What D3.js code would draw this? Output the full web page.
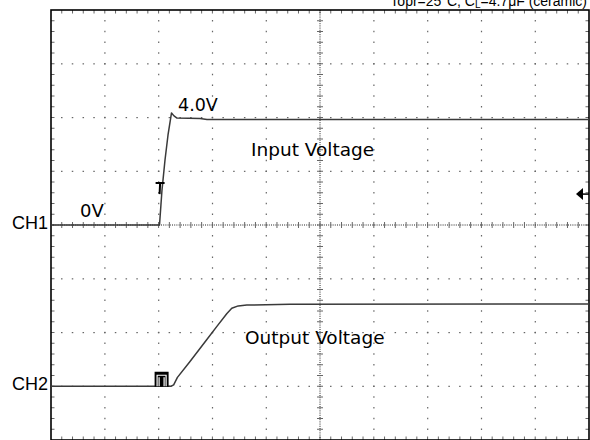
<!DOCTYPE html>
<html><head><meta charset="utf-8">
<script src="https://cdn.jsdelivr.net/npm/d3@7"></script>
<style>html,body{margin:0;padding:0;background:#fff;overflow:hidden}</style>
</head><body>
<svg id="chart" width="590" height="440"></svg>
<script>
// ---- data (time in divisions, voltage in V) ----
const ch1Time = [0, 2.017, 2.063, 2.119, 2.175, 2.240, 2.286, 2.342, 2.770, 2.900, 10];
const ch1Volt = [0, 0, 1.30, 2.42, 3.35, 4.17, 4.06, 3.98, 3.96, 3.93, 3.93];
const ch2Time = [0, 2.23, 2.28, 2.35, 2.58, 2.89, 3.08, 3.27, 3.36, 3.48, 3.64, 4.44, 10];
const ch2Volt = [0, 0, 0.05, 0.33, 0.91, 1.72, 2.22, 2.71, 2.90, 2.99, 3.02, 3.05, 3.06];
const channelNames = ["CH1", "CH2"];
const channelOffsets = [4, 1];      // ground position, divisions from bottom
const voltsPerDiv = 2;
const triggerTime = 2.0;
const triggerLevel = 1.15;          // V on CH1
const levelLabels = ["0V", "4.0V"];
const levelValues = [0, 4.0];
const traceLabels = ["Input Voltage", "Output Voltage"];
const titleParts = ["Topr=25°C, C", "L", "=4.7μF (ceramic)"];
const xDivs = 10, yDivs = 8, minorPerDiv = 5;

const svg = d3.select("#chart");
const x = d3.scaleLinear().domain([0, xDivs]).range([51, 589]);
const y = d3.scaleLinear().domain([0, yDivs]).range([440, 10]);
const yCh = (ch, v) => y(channelOffsets[ch] + v / voltsPerDiv);

const minorX = d3.range(1, xDivs * minorPerDiv).map(i => i / minorPerDiv);
const minorY = d3.range(1, yDivs * minorPerDiv).map(i => i / minorPerDiv);
const gridCol = "#666";

// ---- grid dots ----
const g = svg.append("g");
d3.range(1, xDivs).filter(i => i !== xDivs / 2).forEach(i => {
  g.selectAll(null).data(minorY).enter().append("rect")
    .attr("x", x(i) - 0.5).attr("y", d => y(d) - 0.75)
    .attr("width", 1.2).attr("height", 1.5).attr("fill", gridCol);
});
d3.range(1, yDivs).filter(j => j !== yDivs / 2).forEach(j => {
  g.selectAll(null).data(minorX).enter().append("rect")
    .attr("x", d => x(d) - 0.75).attr("y", y(j) - 0.5)
    .attr("width", 1.5).attr("height", 1.2).attr("fill", gridCol);
});

// ---- border ticks ----
const bt = svg.append("g").attr("stroke", gridCol).attr("stroke-width", 1);
bt.selectAll(null).data(minorX).enter().append("line")
  .attr("x1", d => x(d)).attr("x2", d => x(d)).attr("y1", y(yDivs)).attr("y2", y(yDivs) + 3.5);
bt.selectAll(null).data(minorX).enter().append("line")
  .attr("x1", d => x(d)).attr("x2", d => x(d)).attr("y1", y(0)).attr("y2", y(0) - 3.5);
bt.selectAll(null).data(minorY).enter().append("line")
  .attr("y1", d => y(d)).attr("y2", d => y(d)).attr("x1", x(0)).attr("x2", x(0) + 3.5);
bt.selectAll(null).data(minorY).enter().append("line")
  .attr("y1", d => y(d)).attr("y2", d => y(d)).attr("x1", x(xDivs)).attr("x2", x(xDivs) - 3.5);

// ---- center axes ----
const ca = svg.append("g");
ca.append("line").attr("x1", x(xDivs / 2)).attr("x2", x(xDivs / 2))
  .attr("y1", y(yDivs)).attr("y2", y(0))
  .attr("stroke", "#222").attr("stroke-width", 1).attr("stroke-dasharray", "1,1.2");
ca.append("line").attr("y1", y(yDivs / 2)).attr("y2", y(yDivs / 2))
  .attr("x1", x(0)).attr("x2", x(xDivs))
  .attr("stroke", "#222").attr("stroke-width", 1).attr("stroke-dasharray", "1,1.2");
ca.selectAll(null).data(minorY).enter().append("line")
  .attr("x1", x(xDivs / 2) - 3).attr("x2", x(xDivs / 2) + 3)
  .attr("y1", d => y(d)).attr("y2", d => y(d))
  .attr("stroke", gridCol).attr("stroke-width", 1);
ca.selectAll(null).data(minorX).enter().append("line")
  .attr("y1", y(yDivs / 2) - 3).attr("y2", y(yDivs / 2) + 3)
  .attr("x1", d => x(d)).attr("x2", d => x(d))
  .attr("stroke", gridCol).attr("stroke-width", 1);

// ---- border ----
svg.append("rect").attr("x", x(0)).attr("y", y(yDivs))
  .attr("width", x(xDivs) - x(0)).attr("height", y(0) - y(yDivs))
  .attr("fill", "none").attr("stroke", "#000").attr("stroke-width", 1.6);

// ---- traces ----
const traces = [
  { t: ch1Time, v: ch1Volt },
  { t: ch2Time, v: ch2Volt }
];
traces.forEach((tr, ch) => {
  const pts = tr.t.map((t, i) => [x(t), yCh(ch, tr.v[i])]);
  svg.append("path").attr("d", d3.line()(pts))
    .attr("fill", "none").attr("stroke", "#3a3a3a").attr("stroke-width", 1.5)
    .attr("stroke-linejoin", "round");
});

// ---- trigger markers ----
const tx = x(triggerTime);
const ty = yCh(0, triggerLevel);
svg.append("path")
  .attr("d", `M${tx - 3},${ty - 11}H${tx + 6}M${tx + 1.5},${ty - 11}L${tx + 1},${ty}`)
  .attr("stroke", "#000").attr("stroke-width", 2).attr("fill", "none");
const gy = yCh(1, 0);
svg.append("rect").attr("x", tx - 4).attr("y", gy - 14.5).attr("width", 14).attr("height", 15).attr("fill", "#000");
svg.append("path")
  .attr("d", `M${tx - 1.5},${gy}V${gy - 11}H${tx + 7.5}V${gy}M${tx + 0.5},${gy - 9}V${gy}M${tx + 5.5},${gy - 9}V${gy}`)
  .attr("stroke", "#fff").attr("stroke-width", 1.2).attr("fill", "none");
// trigger level arrow at right
svg.append("path")
  .attr("d", `M${x(xDivs) - 13},${ty}L${x(xDivs) - 6},${ty - 6}V${ty + 6}Z`)
  .attr("fill", "#000");
svg.append("line").attr("x1", x(xDivs) - 6).attr("x2", x(xDivs)).attr("y1", ty).attr("y2", ty)
  .attr("stroke", "#000").attr("stroke-width", 1.5);

// ---- text ----
const gothic = "'DejaVu Sans', sans-serif";
const sans = "'Liberation Sans', Arial, sans-serif";
channelNames.forEach((n, ch) => {
  svg.append("text").attr("x", 12).attr("y", yCh(ch, 0) + 3.5)
    .attr("font-family", sans).attr("font-size", 18).attr("fill", "#000").text(n);
});
svg.append("text").attr("x", 80).attr("y", yCh(0, levelValues[0]) - 8.5)
  .attr("font-family", gothic).attr("font-size", 18).text(levelLabels[0]);
svg.append("text").attr("x", 178).attr("y", yCh(0, levelValues[1]) - 6.5)
  .attr("font-family", gothic).attr("font-size", 17.5).text(levelLabels[1]);
svg.append("text").attr("x", 251).attr("y", 156)
  .attr("font-family", gothic).attr("font-size", 18.5).text(traceLabels[0]);
svg.append("text").attr("x", 245).attr("y", 343.5)
  .attr("font-family", gothic).attr("font-size", 18.5).text(traceLabels[1]);

const title = svg.append("text").attr("x", 587).attr("y", 5.5).attr("text-anchor", "end")
  .attr("font-family", sans).attr("font-size", 14).attr("fill", "#000");
title.append("tspan").text(titleParts[0]);
title.append("tspan").attr("font-size", 10).attr("dy", 2).text(titleParts[1]);
title.append("tspan").attr("dy", -2).text(titleParts[2]);
</script>
</body></html>
